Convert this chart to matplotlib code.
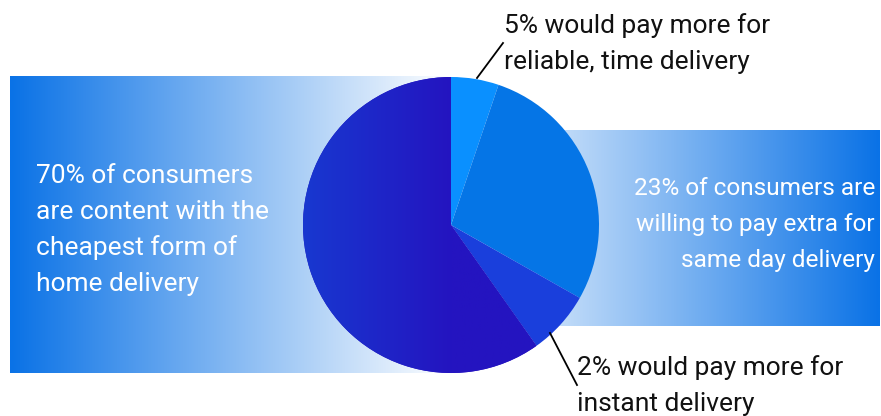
import numpy as np
import matplotlib.pyplot as plt
from matplotlib.colors import LinearSegmentedColormap

# ---- data (wedge sizes) ----
segments = ["reliable", "same_day", "instant", "cheapest"]
shares = [5.2, 28.0, 7.0, 59.8]
colors = ["#0a90ff", "#0575e6", "#1a3fdc", "#2414c0"]

left_lines = ["70% of consumers", "are content with the",
              "cheapest form of", "home delivery"]
right_lines = ["23% of consumers are", "willing to pay extra for",
               "same day delivery"]
top_lines = ["5% would pay more for", "reliable, time delivery"]
bottom_lines = ["2% would pay more for", "instant delivery"]

W, H = 881, 416
fig = plt.figure(figsize=(W / 100, H / 100), dpi=100)
ax = fig.add_axes([0, 0, 1, 1])

band_blue = "#0a72e6"
grad = np.linspace(0, 1, 256)[None, :]

# left band: blue -> white
cmap_l = LinearSegmentedColormap.from_list("l", [band_blue, "#ffffff"])
ax.imshow(grad, cmap=cmap_l, extent=[10, 452, 373, 76], aspect="auto", zorder=0)

# right band: white -> blue
cmap_r = LinearSegmentedColormap.from_list("r", ["#ffffff", band_blue])
ax.imshow(grad, cmap=cmap_r, extent=[452, 880, 326, 130], aspect="auto", zorder=0)

# pie (y axis inverted, so counterclock=True draws clockwise on screen)
cx, cy, r = 451, 225, 148
wedges, _ = ax.pie(shares, colors=colors, startangle=-90, counterclock=True,
                   center=(cx, cy), radius=r, frame=True,
                   wedgeprops=dict(linewidth=0))
for w in wedges:
    w.set_zorder(2)

# big slice has a soft horizontal shade
cmap_big = LinearSegmentedColormap.from_list(
    "big", [(0, "#1838d0"), (0.5, "#2414c0"), (1, "#2414c0")])
im = ax.imshow(grad, cmap=cmap_big, extent=[cx - r, cx + r, cy + r, cy - r],
               aspect="auto", zorder=2.5)
im.set_clip_path(wedges[3])

ax.set_xlim(0, W)
ax.set_ylim(H, 0)
ax.set_aspect("auto")
ax.axis("off")

# leader lines
ax.plot([477, 503], [78, 43], color="black", lw=1.3, zorder=3)
ax.plot([550, 577], [333, 385], color="black", lw=1.3, zorder=3)

font = dict(family=["Roboto", "DejaVu Sans"], fontsize=19)

for i, s in enumerate(left_lines):
    ax.text(36, 183 + 36 * i, s, color="white", ha="left", va="baseline", **font)
for i, s in enumerate(right_lines):
    ax.text(875, 195 + 36 * i, s, color="white", ha="right", va="baseline",
            family=["Roboto", "DejaVu Sans"], fontsize=17.6)
for i, s in enumerate(top_lines):
    ax.text(504, 33 + 36 * i, s, color="#111111", ha="left", va="baseline", **font)
for i, s in enumerate(bottom_lines):
    ax.text(577, 375 + 36 * i, s, color="#111111", ha="left", va="baseline", **font)

fig.savefig("out.png", dpi=100)
